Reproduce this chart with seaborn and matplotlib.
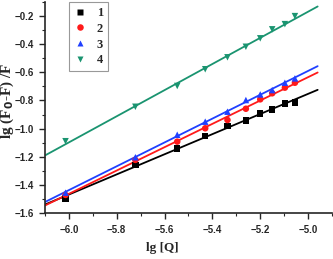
import seaborn as sns
import matplotlib.pyplot as plt
import numpy as np
import pandas as pd
from matplotlib.ticker import MultipleLocator

# lg[Q] values
lg_q = [-6.014, -5.722, -5.547, -5.43, -5.337, -5.26, -5.2, -5.15, -5.097, -5.055]

# lg((F0-F)/F) for each series
s1 = [-1.496, -1.259, -1.140, -1.053, -0.982, -0.944, -0.891, -0.863, -0.820, -0.813]
s2 = [-1.472, -1.223, -1.093, -0.998, -0.939, -0.859, -0.792, -0.749, -0.709, -0.674]
s3 = [-1.456, -1.204, -1.044, -0.951, -0.880, -0.797, -0.757, -0.726, -0.674, -0.643]
s4 = [-1.090, -0.845, -0.697, -0.578, -0.493, -0.418, -0.358, -0.294, -0.257, -0.200]

series_names = ['1', '2', '3', '4']
colors = ['black', '#ff1a1a', '#2040ff', '#1a9470']
markers = ['s', 'o', '^', 'v']
fit_range = [-6.1, -4.96]

df = pd.DataFrame({'x': lg_q * 4,
                   'y': s1 + s2 + s3 + s4,
                   'series': [n for n in series_names for _ in lg_q]})

sns.set_style("ticks")
plt.rcParams['font.family'] = ['Liberation Sans', 'DejaVu Sans']

fig = plt.figure(figsize=(3.33, 2.59), dpi=100)
ax = fig.add_axes([0.135, 0.178, 0.862, 0.814])

# linear fits
xs = np.array(fit_range)
for name, c in zip(series_names, colors):
    sub = df[df.series == name]
    k, b = np.polyfit(sub.x, sub.y, 1)
    sns.lineplot(x=xs, y=k * xs + b, color=c, lw=1.3, ax=ax, legend=False)

sns.scatterplot(data=df, x='x', y='y', hue='series', style='series',
                palette=colors, markers=markers, s=22, edgecolor='none',
                ax=ax, zorder=3)

ax.set_xlim(-6.1, -4.9)
ax.set_ylim(-1.6, -0.1)
ax.set_xticks([-6.0, -5.8, -5.6, -5.4, -5.2, -5.0])
ax.set_yticks([-1.6, -1.4, -1.2, -1.0, -0.8, -0.6, -0.4, -0.2])
ax.xaxis.set_minor_locator(MultipleLocator(0.1))
ax.yaxis.set_minor_locator(MultipleLocator(0.1))
ax.tick_params(which='major', direction='out', length=4, width=1, labelsize=7)
ax.tick_params(axis='x', which='major', pad=5)
ax.tick_params(axis='y', which='major', pad=4)
ax.tick_params(which='minor', direction='out', length=2, width=0.8)
for lab in ax.get_xticklabels() + ax.get_yticklabels():
    lab.set_fontweight('bold')
for sp in ['left', 'bottom']:
    ax.spines[sp].set_linewidth(1.2)
sns.despine(ax=ax)

ax.set_xlabel('lg [Q]', family='Liberation Serif', fontweight='bold', fontsize=9.5)
ax.xaxis.set_label_coords(0.41, -0.14)
ax.set_ylabel(r'lg (F$_\mathbf{0}$-F) /F', family='Liberation Serif', fontweight='bold', fontsize=11)
ax.yaxis.set_label_coords(-0.1, 0.53)

leg = ax.legend(loc='upper left', bbox_to_anchor=(0.084, 1.0), borderaxespad=0,
                frameon=True, fancybox=False, edgecolor='gray',
                prop={'family': 'Liberation Serif', 'weight': 'bold', 'size': 9},
                handlelength=1.0, handletextpad=0.8, labelspacing=0.3, borderpad=0.4)
leg.get_frame().set_linewidth(0.8)

plt.savefig('out.png', dpi=100)
